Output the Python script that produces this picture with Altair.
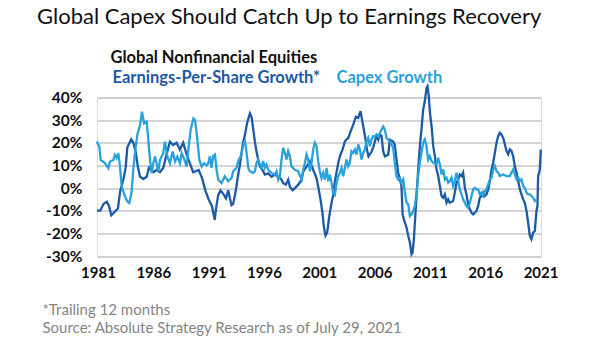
import altair as alt
import pandas as pd

# ---- data (percent growth) ----
eps_year = [1980.9, 1981.2, 1981.5, 1981.8, 1982.0, 1982.2, 1982.5, 1982.8, 1983.0, 1983.3,
            1983.5, 1983.65, 1984.0, 1984.2, 1984.4, 1984.6, 1984.8, 1985.1, 1985.4, 1985.6,
            1986.0, 1986.3, 1986.6, 1986.9, 1987.2, 1987.5, 1987.8, 1988.1, 1988.4, 1988.7,
            1989.0, 1989.3, 1989.6, 1990.1, 1990.4, 1990.7, 1991.0, 1991.3, 1991.55, 1991.7,
            1991.87, 1992.08, 1992.38, 1992.56, 1992.77, 1992.92, 1993.07, 1993.22, 1993.46, 1993.67,
            1993.82, 1994.07, 1994.28, 1994.49, 1994.73, 1994.88, 1995.03, 1995.18, 1995.33, 1995.48,
            1995.63, 1995.87, 1996.08, 1996.38, 1996.69, 1996.99, 1997.29, 1997.59, 1997.74, 1997.98,
            1998.19, 1998.34, 1998.58, 1998.79, 1999.1, 1999.4, 1999.55, 1999.85, 2000.15, 2000.45,
            2000.75, 2000.9, 2001.11, 2001.29, 2001.41, 2001.56, 2001.72, 2001.9, 2002.11, 2002.26,
            2002.41, 2002.56, 2002.71, 2002.86, 2003.1, 2003.31, 2003.46, 2003.61, 2003.76, 2003.91,
            2004.07, 2004.31, 2004.52, 2004.73, 2004.91, 2005.06, 2005.21, 2005.33, 2005.45, 2005.72,
            2005.87, 2006.02, 2006.18, 2006.33, 2006.48, 2006.63, 2006.78, 2006.93, 2007.23, 2007.38,
            2007.68, 2007.83, 2007.98, 2008.13, 2008.28, 2008.43, 2008.53, 2008.65, 2008.89, 2009.04,
            2009.19, 2009.34, 2009.43, 2009.55, 2009.64, 2009.79, 2009.94, 2010.09, 2010.24, 2010.39,
            2010.54, 2010.69, 2010.78, 2010.9, 2010.99, 2011.15, 2011.3, 2011.45, 2011.6, 2011.75,
            2011.9, 2012.05, 2012.2, 2012.35, 2012.5, 2012.65, 2012.8, 2013.1, 2013.25, 2013.4,
            2013.56, 2013.7, 2013.86, 2014.0, 2014.16, 2014.3, 2014.46, 2014.61, 2014.76, 2014.91,
            2015.21, 2015.36, 2015.51, 2015.66, 2015.81, 2015.96, 2016.11, 2016.27, 2016.42, 2016.57,
            2016.72, 2016.87, 2017.02, 2017.17, 2017.32, 2017.47, 2017.62, 2017.77, 2017.92, 2018.07,
            2018.22, 2018.37, 2018.52, 2018.67, 2018.83, 2018.98, 2019.13, 2019.28, 2019.43, 2019.58,
            2019.73, 2019.88, 2020.03, 2020.18, 2020.33, 2020.48, 2020.63, 2020.72, 2020.78, 2020.87,
            2020.93, 2021.02]
eps_value = [-10, -10, -7, -6, -8, -12, -10.5, -9, -1.5, 4,
             9, 18, 21.5, 20, 16, 9.5, 5, 4, 5, 9,
             7, 8, 7, 9, 15, 20.5, 19, 20, 17, 20,
             15, 11, 7, 8, 4.5, -1, -5, -8, -14, -8,
             -3, -1, -3, -4.5, -1, -4.5, -7.5, -7, -1, 6,
             10, 19, 23.5, 29, 33, 31.5, 26, 20.5, 16, 12.5,
             9.5, 8, 6, 6.5, 5, 6, 5, 3.7, 2.2, 1.5,
             3.7, 0.7, -1, 0, 1.5, 3.7, 7.3, 9.5, 11.8, 8,
             4.4, 0.7, -5, -11, -17, -21, -19.5, -12.5, -6.5, -3,
             3, 7, 11, 14, 17, 20.5, 21.5, 22, 24, 26,
             28, 31.5, 31, 34, 29, 25, 20.5, 16.5, 14, 16,
             18, 20.5, 23, 21.4, 23.8, 23, 16.2, 14, 14.7, 21.3,
             20.5, 19, 12.6, 6.8, 3.8, 0.9, -11.6, -13.8, -17.5, -21.1,
             -24, -29.2, -28.5, -22.6, -15.3, -3.5, 8.2, 18.5, 26, 34.7,
             38.3, 44.2, 45, 40.5, 33.9, 27.3, 18.5, 14, 8.2, 5.3,
             0.9, -3.5, -4.3, -2.8, -6.5, -5, -6.5, -5.7, -2, 2.3,
             3.8, 6, 5.3, 6.8, 0.1, -2.8, -7.2, -9.4, -10.9, -11.6,
             -10.1, -7.9, -4.2, -3.5, -2, -3.5, -2.8, -0.6, 3.1, 8.2,
             11.2, 15.6, 20, 22.9, 24.4, 23.6, 22.2, 19.4, 16.4, 14.9,
             17.1, 16.4, 14.1, 9.7, 6.8, 3.1, -0.6, -2.8, -5, -6.5,
             -10.1, -15.3, -21.1, -22.6, -19.7, -19, -10.1, -7.9, 5.3, 6.8,
             8.2, 17]

capex_year = [1980.88, 1981.12, 1981.24, 1981.63, 1981.93, 1982.08, 1982.39, 1982.53, 1982.68, 1982.84,
              1982.99, 1983.14, 1983.44, 1983.65, 1983.83, 1984.04, 1984.19, 1984.34, 1984.55, 1984.8,
              1984.98, 1985.16, 1985.4, 1985.55, 1985.7, 1985.85, 1986.0, 1986.15, 1986.3, 1986.45,
              1986.6, 1986.9, 1987.05, 1987.27, 1987.5, 1987.75, 1987.96, 1988.17, 1988.41, 1988.56,
              1988.77, 1989.01, 1989.16, 1989.37, 1989.62, 1989.77, 1989.92, 1990.16, 1990.37, 1990.58,
              1990.82, 1990.97, 1991.11, 1991.26, 1991.41, 1991.57, 1991.72, 1991.87, 1992.17, 1992.47,
              1992.77, 1993.07, 1993.22, 1993.52, 1993.67, 1993.97, 1994.13, 1994.28, 1994.43, 1994.58,
              1994.73, 1995.03, 1995.18, 1995.33, 1995.48, 1995.63, 1995.78, 1995.93, 1996.08, 1996.23,
              1996.38, 1996.69, 1996.99, 1997.14, 1997.29, 1997.44, 1997.59, 1997.74, 1997.89, 1998.04,
              1998.19, 1998.34, 1998.49, 1998.79, 1999.1, 1999.4, 1999.55, 1999.7, 1999.85, 2000.0,
              2000.15, 2000.3, 2000.45, 2000.6, 2000.75, 2000.9, 2001.05, 2001.2, 2001.35, 2001.5,
              2001.66, 2001.81, 2001.96, 2002.11, 2002.26, 2002.41, 2002.56, 2002.71, 2002.86, 2003.01,
              2003.16, 2003.31, 2003.46, 2003.61, 2003.76, 2003.91, 2004.07, 2004.22, 2004.37, 2004.52,
              2004.67, 2004.82, 2004.97, 2005.12, 2005.27, 2005.42, 2005.57, 2005.72, 2005.87, 2006.02,
              2006.17, 2006.33, 2006.54, 2006.78, 2006.93, 2007.08, 2007.38, 2007.68, 2007.83, 2007.98,
              2008.13, 2008.28, 2008.43, 2008.59, 2008.74, 2008.89, 2009.04, 2009.19, 2009.34, 2009.49,
              2009.64, 2009.79, 2009.94, 2010.09, 2010.24, 2010.39, 2010.54, 2010.69, 2010.84, 2010.99,
              2011.15, 2011.3, 2011.6, 2011.75, 2011.9, 2012.05, 2012.2, 2012.35, 2012.5, 2012.65,
              2012.8, 2012.95, 2013.1, 2013.25, 2013.4, 2013.56, 2013.7, 2013.86, 2014.0, 2014.16,
              2014.3, 2014.46, 2014.61, 2014.76, 2014.91, 2015.06, 2015.21, 2015.36, 2015.51, 2015.66,
              2015.81, 2015.96, 2016.11, 2016.42, 2016.57, 2016.72, 2016.87, 2017.02, 2017.17, 2017.32,
              2017.62, 2017.92, 2018.22, 2018.37, 2018.52, 2018.67, 2018.83, 2018.98, 2019.13, 2019.28,
              2019.43, 2019.58, 2019.73, 2019.88, 2020.03, 2020.18, 2020.33, 2020.48, 2020.6]
capex_value = [20.5, 18.3, 12.4, 11, 8.8, 11.7, 12.4, 14.6, 13.2, 15.4,
               9.5, 0.7, -3.7, -5.9, -6.6, -1.5, 8, 15.4, 23.4, 27.8,
               33.7, 28.6, 29.3, 21.2, 12.4, 6.6, 11, 13.9, 11, 7.3,
               12.4, 15.4, 20.5, 13.9, 11, 16.1, 11.7, 13.9, 11, 15.4,
               13.2, 9.5, 16.8, 25.6, 30.7, 30, 24.2, 12.4, 9.5, 11,
               10, 11, 14.1, 8.9, 14.1, 14.8, 8.1, 3.7, 2.2, 5.2,
               3, 4.4, 7.4, 8.9, 11.9, 14.8, 19.3, 20.7, 15.6, 8.9,
               7.4, 6.7, 7.4, 11.1, 12.6, 10.4, 8.9, 11.9, 8.9, 10.4,
               8.1, 6.7, 5.9, 7.4, 3.7, 5.2, 12.6, 17.8, 15.6, 12.6,
               16.3, 14.1, 9.6, 8.1, 7.4, 3.7, 8.1, 11.1, 14.8, 12.6,
               7.4, 11.1, 17, 20, 18.5, 11.9, 7.4, 4.4, 6.7, 3.7,
               8.9, 3, 5.9, 2.2, -2.2, -3, 2.2, 5.2, 6.7, 8.9,
               5.2, 8.9, 12.6, 9.6, 11.1, 16.3, 15.5, 17, 14.8, 19.3,
               17, 12.6, 15.5, 17, 20.7, 22.2, 18.5, 21.5, 23, 22.5,
               23.7, 22.8, 25, 27.2, 25.7, 22.1, 20.6, 17.8, 11, 5.3,
               3.8, 4.6, 2.4, 3.8, -2, -6.5, -7.2, -12.4, -11.6, -10.1,
               -7.9, -2, 5.3, 11.2, 15.6, 20, 21.5, 18.5, 12.6, 14.1,
               11.9, 11.2, 10.4, 13.4, 10.4, 6, 8.2, 3.8, 4.6, 2.4,
               3.1, 4.6, 0.9, 3.1, 6.8, 3.1, -0.6, -2.8, -5, -6.5,
               -7.9, -8.7, -6.5, -3.5, -0.6, 0.1, -0.6, -0.6, -2.8, -2,
               -3.5, -1.3, -0.6, 3.8, 4.6, 8.2, 9.7, 7.5, 6.8, 5.3,
               6, 5.3, 5.3, 6.8, 8.2, 6, 3.8, 4.6, 3.1, 3.8,
               0.9, 0.1, -2, -2.8, -2.8, -3.5, -4.3, -5.7, -5]

series_names = ["Earnings-Per-Share Growth*", "Capex Growth"]
series_colors = ["#1c5aa6", "#29a2dc"]
y_ticks = [-30, -20, -10, 0, 10, 20, 30, 40]
x_ticks = [1981, 1986, 1991, 1996, 2001, 2006, 2011, 2016, 2021]

title_text = "Global Capex Should Catch Up to Earnings Recovery"
group_label = "Global Nonfinancial Equities"
footnotes = ["*Trailing 12 months", "Source: Absolute Strategy Research as of July 29, 2021"]

df = pd.concat([
    pd.DataFrame({"year": eps_year, "value": eps_value, "series": series_names[0]}),
    pd.DataFrame({"year": capex_year, "value": capex_value, "series": series_names[1]}),
], ignore_index=True)

FONT = "Lato"
label_color_expr = (
    f"datum.value == '{series_names[1]}' ? '{series_colors[1]}' : '{series_colors[0]}'"
)

chart = alt.Chart(df).mark_line(strokeWidth=2.3, clip=False).encode(
    x=alt.X(
        "year:Q",
        scale=alt.Scale(domain=[1980.91, 2021.04], nice=False, zero=False),
        axis=alt.Axis(
            values=x_ticks, format="d", grid=False, domain=False, ticks=False,
            labelFlush=False, labelOverlap=False,
            labelFont=FONT, labelFontSize=15, labelFontWeight="bold", labelColor="#111111",
            labelPadding=9,
            title=footnotes, titleX=-55, titleY=58, titleAlign="left", titleAnchor="start",
            titleBaseline="alphabetic", titleFont=FONT, titleFontSize=15,
            titleFontWeight="normal", titleColor="#858585", titleLineHeight=18,
        ),
    ),
    y=alt.Y(
        "value:Q",
        scale=alt.Scale(domain=[-30, 40], nice=False),
        axis=alt.Axis(
            values=y_ticks, labelExpr="datum.value + '%'", grid=True,
            gridColor="#c6c6c6", gridWidth=1.5, domain=False, ticks=False,
            labelFont=FONT, labelFontSize=15.5, labelFontWeight="bold", labelColor="#111111",
            labelPadding=15,
            title=group_label, titleAngle=0, titleX=13, titleY=-40.5, titleAlign="left",
            titleBaseline="middle", titleFont=FONT, titleFontSize=16.5,
            titleFontWeight="bold", titleColor="#111111",
        ),
    ),
    color=alt.Color(
        "series:N",
        scale=alt.Scale(domain=series_names, range=series_colors),
        legend=alt.Legend(
            orient="none", legendX=-1, legendY=-28, direction="horizontal", title=None,
            symbolSize=0, symbolStrokeWidth=0, symbolOpacity=0, labelOffset=0,
            columnPadding=-2, padding=0, labelFont=FONT, labelFontSize=16.5,
            labelFontWeight="bold", labelLimit=400,
            labelColor=alt.ExprRef(expr=label_color_expr),
        ),
    ),
).properties(
    width=444,
    height=158.5,
    title=alt.Title(
        title_text, anchor="start", frame="group", dx=-60, fontSize=22, font=FONT,
        fontWeight="normal", color="#111111", offset=20,
    ),
    autosize=alt.AutoSizeParams(type="none"),
    padding={"left": 97, "top": 97.5, "right": 64, "bottom": 85},
).configure_view(stroke=None).configure(background="white")

chart.save("out.html", embed_options={"renderer": "svg", "actions": False})
